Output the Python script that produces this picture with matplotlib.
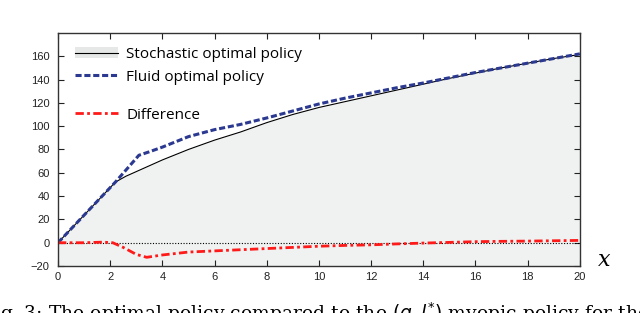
import matplotlib
matplotlib.use('Agg')
import matplotlib.pyplot as plt
from matplotlib.patches import Patch
from matplotlib.lines import Line2D

# ------------------------- data ------------------------------------------------------
x_stoch = [0, 2.2, 2.6, 3.0, 3.5, 4, 5, 6, 7, 8, 9, 10, 11, 12, 13, 14, 15, 16, 17, 18, 19, 20]
stoch = [0, 52, 57, 61, 66, 71, 80, 88, 95, 103, 110, 116, 121, 126, 131, 136, 141, 145.5, 150, 154, 158, 161.5]

x_fluid = [0, 2.2, 3.1, 3.5, 4, 5, 6, 7, 8, 9, 10, 11, 12, 13, 14, 15, 16, 17, 18, 19, 20]
fluid = [0, 52, 75, 78, 82, 91, 97, 101.5, 107, 113, 119, 124, 128.5, 133, 137, 141.5, 146, 150, 154, 158, 162]

x_diff = [0, 1, 1.7, 2.1, 2.5, 3.0, 3.4, 4, 5, 6, 7, 8, 9, 10, 11, 12, 13, 14, 15, 16, 17, 18, 19, 20]
diff = [0, 0, 0.5, 0, -4, -10, -12.5, -10.5, -8, -7, -6, -5, -4, -3, -2.3, -1.8, -1, -0.3, 0.3, 0.9, 1.2, 1.4, 1.7, 2]

xticks = list(range(0, 21, 2))
yticks = list(range(-20, 161, 20))

blue = '#2b3990'
red = '#ff1a1a'
fill_col = '#f0f1f1'

# ------------------------- plot --------------------------------
fig = plt.figure(figsize=(6.4, 3.13), dpi=100)
ax = fig.add_axes([0.0906, 0.150, 0.8154, 0.745])

ax.fill_between(x_stoch, stoch, -20, color=fill_col, lw=0)
ax.axhline(0, color='k', ls=(0, (1, 1.5)), lw=0.8)
ax.plot(x_stoch, stoch, 'k', lw=0.8)
ax.plot(x_fluid, fluid, color=blue, ls=(0, (2.0, 0.9)), lw=2.2)
ax.plot(x_diff, diff, color=red, ls=(0, (3, 1.2, 1, 1.2)), lw=2.0)

ax.set_xlim(0, 20)
ax.set_ylim(-20, 180)
ax.set_xticks(xticks)
ax.set_yticks(yticks)
ax.tick_params(direction='in', length=4, width=0.8, top=True, right=True,
               labelsize=8, colors='#222222')
ax.tick_params(axis='y', pad=6)
ax.tick_params(axis='x', pad=4)
for lab in ax.get_xticklabels() + ax.get_yticklabels():
    lab.set_family('Liberation Sans')
for s in ax.spines.values():
    s.set_linewidth(1.0)
    s.set_color('#333333')

ax.text(1.035, -0.02, 'x', transform=ax.transAxes, fontsize=16,
        family='DejaVu Serif', style='italic', ha='left', va='bottom')

# legend, split in two like the original
h_stoch = (Patch(facecolor='#e6e7e7', edgecolor='none'), Line2D([], [], color='k', lw=0.8))
h_fluid = Line2D([], [], color=blue, ls=(0, (2.0, 0.9)), lw=2.2)
h_diff = Line2D([], [], color=red, ls=(0, (3, 1.2, 1, 1.2)), lw=2.0)
lkw = dict(frameon=False, handlelength=2.85, handletextpad=0.55, borderaxespad=0.0,
           prop={'family': 'Open Sans', 'size': 11})
leg1 = ax.legend([h_stoch, h_fluid], ['Stochastic optimal policy', 'Fluid optimal policy'],
                 loc='upper left', bbox_to_anchor=(0.02, 0.965), labelspacing=0.5, **lkw)
ax.add_artist(leg1)
ax.legend([h_diff], ['Difference'], loc='upper left', bbox_to_anchor=(0.02, 0.705), **lkw)

# caption, clipped by the figure edges as in the source
fig.text(-0.03, -0.04, 'Fig. 3: The optimal policy compared to the $(q, l^{*})$ myopic policy for the',
         fontsize=13.5, family='DejaVu Serif', ha='left', va='bottom')

fig.savefig('out.png', dpi=100)
